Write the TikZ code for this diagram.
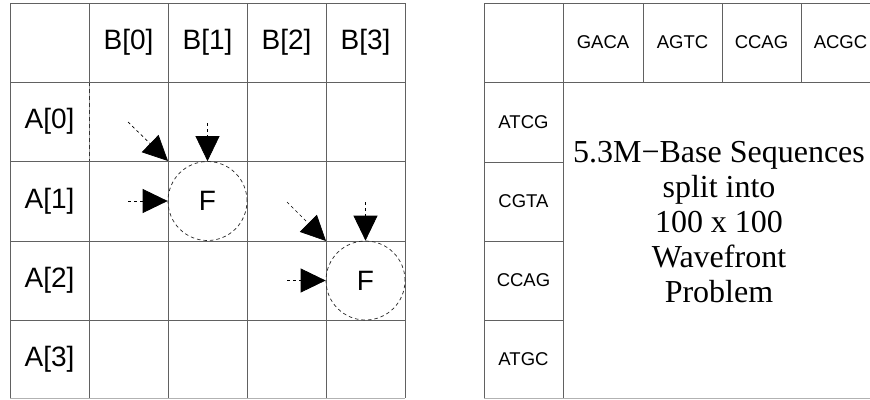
\documentclass[tikz,border=0pt]{standalone}
\usepackage{fontspec}
\setmainfont{Liberation Serif}
\newfontfamily\arialf{Liberation Sans}
\usetikzlibrary{arrows.meta}
\begin{document}
\begin{tikzpicture}[x=1pt,y=-1pt,
  gridline/.style={draw=black!62, line width=1pt},
  biglabel/.style={font=\arialf\fontsize{28}{32}\selectfont, inner sep=0pt},
  smalllabel/.style={font=\arialf\fontsize{18.5}{22}\selectfont, inner sep=0pt},
  fcircle/.style={circle, draw=black!85, line width=0.7pt, dash pattern=on 3.5pt off 3pt,
    minimum size=79pt, inner sep=0pt, font=\arialf\fontsize{28}{32}\selectfont},
  dep/.style={draw=black, line width=0.7pt, dash pattern=on 3pt off 3pt,
    -{Triangle[length=25pt,width=24pt]}},
  bigtext/.style={font=\fontsize{32}{35}\selectfont, align=center, inner sep=0pt}
]
\useasboundingbox (0,0) rectangle (870,399);
\fill[white] (0,0) rectangle (870,399);

% ---------- left grid ----------
\foreach \x in {10,168,247,326,405} \draw[gridline] (\x,3) -- (\x,398);
\draw[gridline] (89,3) -- (89,82);
\draw[gridline] (89,161) -- (89,398);
\draw[draw=black!35, line width=1pt] (89,82) -- (89,161);
\draw[draw=black!80, line width=1pt, dash pattern=on 4pt off 3pt] (89,82) -- (89,161);
\foreach \y in {3,82,161,241,320} \draw[gridline] (10,\y) -- (405,\y);
\draw[draw=black!30, line width=1pt] (10,398) -- (405,398);

\node[biglabel] (b0) at (128.5,42.5) {B[0]};
\node[biglabel] (b1) at (207.5,42.5) {B[1]};
\node[biglabel] (b2) at (286.5,42.5) {B[2]};
\node[biglabel] (b3) at (365.5,42.5) {B[3]};
\node[biglabel] (a0) at (49.5,121.5) {A[0]};
\node[biglabel] (a1) at (49.5,201) {A[1]};
\node[biglabel] (a2) at (49.5,280.5) {A[2]};
\node[biglabel] (a3) at (49.5,359) {A[3]};

% ---------- wavefront cells ----------
\node[fcircle] (f1) at (207.5,201) {F};
\node[fcircle] (f2) at (365.5,280.5) {F};

\coordinate (t1v) at (207.5,123);
\coordinate (t1h) at (128,201);
\coordinate (t1d) at (128,122);
\coordinate (c1) at (168,161);
\draw[dep] (t1v) -- (f1.north);
\draw[dep] (t1h) -- (f1.west);
\draw[dep] (t1d) -- (c1);

\coordinate (t2v) at (365.5,202);
\coordinate (t2h) at (287,280.5);
\coordinate (t2d) at (287,202);
\coordinate (c2) at (326,241);
\draw[dep] (t2v) -- (f2.north);
\draw[dep] (t2h) -- (f2.west);
\draw[dep] (t2d) -- (c2);

% ---------- right grid ----------
\draw[gridline] (484,3) -- (484,398);
\draw[gridline] (563,3) -- (563,398);
\foreach \x in {643,722,801} \draw[gridline] (\x,3) -- (\x,82);
\draw[gridline] (484,3) -- (870,3);
\draw[gridline] (484,82) -- (870,82);
\foreach \y in {162,241,320} \draw[gridline] (484,\y) -- (563,\y);
\draw[draw=black!30, line width=1pt] (484,398) -- (870,398);

\node[smalllabel] (h0) at (603,42.5) {GACA};
\node[smalllabel] (h1) at (682.5,42.5) {AGTC};
\node[smalllabel] (h2) at (761.5,42.5) {CCAG};
\node[smalllabel] (h3) at (840.5,42.5) {ACGC};
\node[smalllabel] (r0) at (523.5,122) {ATCG};
\node[smalllabel] (r1) at (523.5,201.5) {CGTA};
\node[smalllabel] (r2) at (523.5,280.5) {CCAG};
\node[smalllabel] (r3) at (523.5,359) {ATGC};

\node[bigtext] (desc) at (719,222) {5.3M−Base Sequences\\split into\\100 x 100\\Wavefront\\Problem};
\end{tikzpicture}
\end{document}
